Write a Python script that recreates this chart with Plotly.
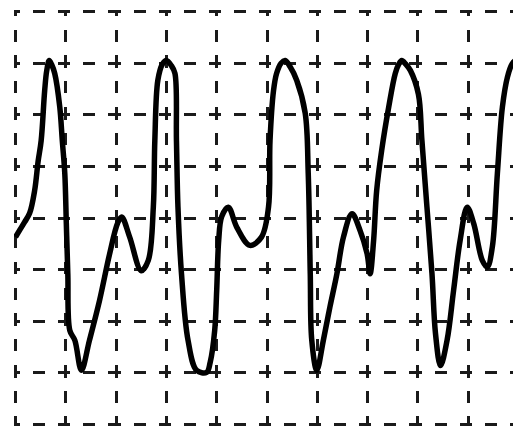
import plotly.graph_objects as go

# waveform trace (grid divisions)
x_div = [0.00, 0.08, 0.18, 0.28, 0.38, 0.45, 0.51, 0.58, 0.62, 0.67,
         0.72, 0.78, 0.88, 0.93, 0.98,
         1.01, 1.04, 1.08, 1.18, 1.31, 1.47, 1.67, 1.87, 2.03, 2.11,
         2.27, 2.50, 2.64, 2.74, 2.77, 2.83, 2.92, 3.00, 3.10, 3.17,
         3.20, 3.23,
         3.30, 3.43, 3.60, 3.80, 3.87, 3.96, 4.00, 4.04, 4.10, 4.23,
         4.40, 4.66, 4.89, 5.03, 5.06, 5.13, 5.19, 5.28, 5.36, 5.46,
         5.59, 5.76,
         5.82, 5.86, 5.89, 5.99, 6.12, 6.25, 6.39, 6.52, 6.69, 6.85,
         6.99, 7.05, 7.12, 7.18, 7.28, 7.42, 7.55, 7.62, 7.68, 7.76,
         7.85, 8.01,
         8.08, 8.18, 8.28, 8.35, 8.45, 8.58, 8.71, 8.84, 8.98, 9.11,
         9.28, 9.38, 9.48, 9.58, 9.68, 9.78, 9.87, 9.94, 10.04]
y_div = [3.63, 3.76, 3.92, 4.09, 4.53, 5.10, 5.50, 6.47, 6.85, 7.05,
         6.97, 6.80, 6.15, 5.50, 4.86,
         3.90, 2.92, 1.82, 1.63, 1.05, 1.63, 2.40, 3.30, 3.90, 4.02,
         3.63, 2.98, 3.18, 4.21, 5.50, 6.67, 6.98, 7.05, 6.95, 6.80,
         5.50, 4.21,
         2.92, 1.63, 1.05, 1.01, 1.20, 1.82, 2.60, 3.57, 4.03, 4.21,
         3.82, 3.47, 3.63, 4.21, 5.50, 6.47, 6.80, 7.00, 7.05, 6.93,
         6.67, 6.03,
         4.86, 2.92, 1.63, 1.05, 1.63, 2.27, 2.92, 3.63, 4.08, 3.76,
         3.31, 2.92, 3.57, 4.53, 5.31, 6.15, 6.80, 6.98, 7.05, 6.98,
         6.86, 6.40,
         5.50, 4.21, 2.92, 1.76, 1.14, 1.63, 2.60, 3.57, 4.21, 3.89,
         3.18, 3.05, 3.44, 4.86, 6.15, 6.73, 6.98, 7.05, 7.00]

x_ticks = list(range(0, 11))
y_ticks = list(range(0, 9))

fig = go.Figure(go.Scatter(
    x=x_div, y=y_div, mode="lines",
    line=dict(color="black", width=5.5, shape="spline", smoothing=1.0),
    hoverinfo="skip", cliponaxis=True,
))

fig.update_layout(
    width=513, height=424,
    margin=dict(l=6, r=1, t=2, b=6),
    paper_bgcolor="white", plot_bgcolor="white",
    showlegend=False,
    xaxis=dict(range=[-0.03, 10.03], tickvals=x_ticks, showticklabels=False,
               showgrid=True, gridcolor="#1a1a1a", gridwidth=2.5,
               griddash="6.4px,13.4px,12px,13.4px,6.4px,0px",
               zeroline=False, showline=False, ticks=""),
    yaxis=dict(range=[-0.03, 8.03], tickvals=y_ticks, showticklabels=False,
               showgrid=True, gridcolor="#1a1a1a", gridwidth=2.5,
               griddash="6.1px,13px,12px,13px,6.1px,0px",
               zeroline=False, showline=False, ticks=""),
)

fig.write_html("out.html")
